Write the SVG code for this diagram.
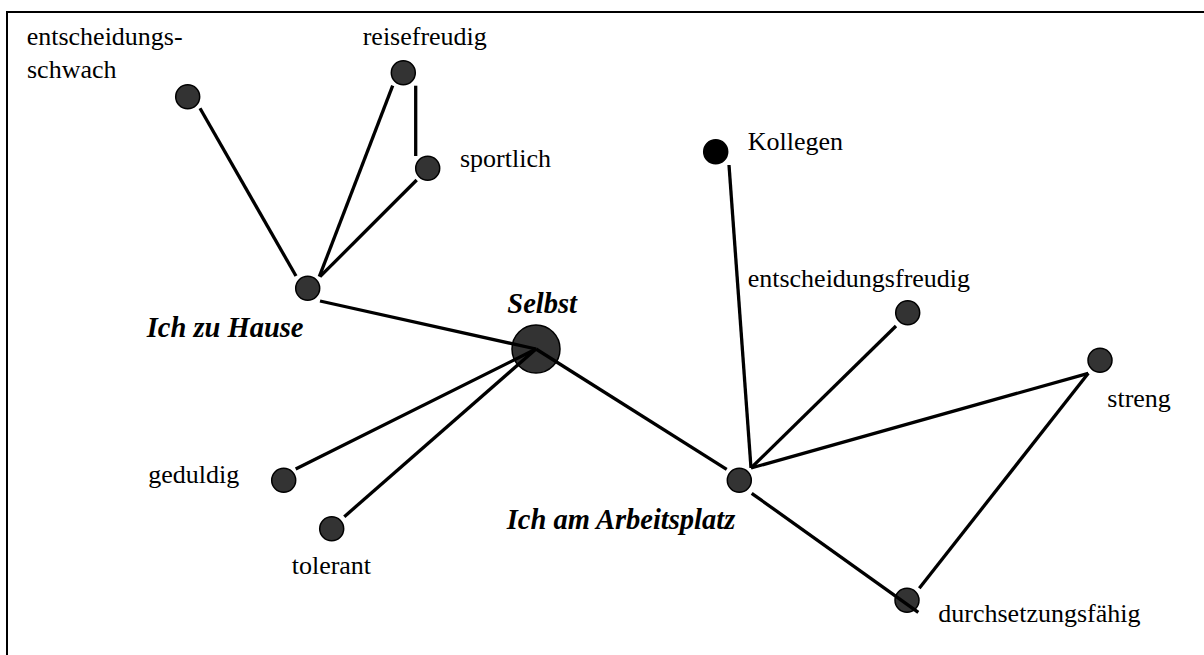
<svg xmlns="http://www.w3.org/2000/svg" width="1204" height="655" viewBox="0 0 1204 655">
<style>
.n{fill:#333;stroke:#000;stroke-width:1.5}
.k{fill:#000;stroke:#000;stroke-width:1.5}
text{font-family:'Liberation Serif','DejaVu Serif','Times New Roman',Times,serif}
.t{font-size:26px;fill:#000}
.b{font-size:28.5px;font-weight:bold;font-style:italic;fill:#000}
#connectors line{stroke:#000;stroke-width:3.3;stroke-linecap:butt}
</style>
<rect width="1204" height="655" fill="#fff"/>
<path d="M7,655 V12 H1204" fill="none" stroke="#000" stroke-width="2"/>
<g id="nodes">
<g id="entscheidungsschwach"><circle class="n" cx="187.7" cy="96.7" r="12"/><text class="t" x="26.7" y="45">entscheidungs-</text><text class="t" x="27" y="77.7">schwach</text></g>
<g id="reisefreudig"><circle class="n" cx="403.3" cy="72.7" r="12"/><text class="t" x="362.7" y="45">reisefreudig</text></g>
<g id="sportlich"><circle class="n" cx="427.7" cy="168.3" r="12"/><text class="t" x="460" y="166.7">sportlich</text></g>
<g id="ich-zu-hause"><circle class="n" cx="307.7" cy="288.3" r="12"/><text class="b" x="146.7" y="336.7">Ich zu Hause</text></g>
<g id="selbst"><circle class="n" cx="536" cy="349" r="24"/><text class="b" x="507.3" y="313.3">Selbst</text></g>
<g id="geduldig"><circle class="n" cx="283.7" cy="480.3" r="12"/><text class="t" x="148.3" y="482.7">geduldig</text></g>
<g id="tolerant"><circle class="n" cx="331.7" cy="528.7" r="12"/><text class="t" x="291.7" y="574">tolerant</text></g>
<g id="ich-am-arbeitsplatz"><circle class="n" cx="739.3" cy="480.3" r="12"/><text class="b" x="506.7" y="529">Ich am Arbeitsplatz</text></g>
<g id="kollegen"><circle class="k" cx="715.7" cy="151.7" r="12"/><text class="t" x="747.7" y="150">Kollegen</text></g>
<g id="entscheidungsfreudig"><circle class="n" cx="907.7" cy="312.7" r="12"/><text class="t" x="747.7" y="286.7">entscheidungsfreudig</text></g>
<g id="streng"><circle class="n" cx="1100" cy="360.3" r="12"/><text class="t" x="1107.3" y="406.7">streng</text></g>
<g id="durchsetzungsfaehig"><circle class="n" cx="907" cy="600.3" r="12"/><text class="t" x="938.3" y="621.7">durchsetzungsfähig</text></g>
</g>
<g id="connectors">
<line x1="200" y1="108.3" x2="296" y2="276"/>
<line x1="319.3" y1="276.7" x2="392.7" y2="85.7"/>
<line x1="415.7" y1="85.7" x2="415.7" y2="156"/>
<line x1="320" y1="276.7" x2="416.7" y2="180"/>
<line x1="320" y1="301" x2="536" y2="349"/>
<line x1="295.7" y1="469" x2="536" y2="349"/>
<line x1="344.3" y1="516.7" x2="536" y2="349"/>
<line x1="536" y1="349" x2="726.7" y2="469.3"/>
<line x1="729" y1="165" x2="751" y2="468"/>
<line x1="896" y1="326" x2="751" y2="468"/>
<line x1="1088.3" y1="373.3" x2="751" y2="468"/>
<line x1="751.7" y1="493.3" x2="918.3" y2="612.3"/>
<line x1="1088.3" y1="373.3" x2="919.3" y2="588.3"/>
</g>
</svg>
